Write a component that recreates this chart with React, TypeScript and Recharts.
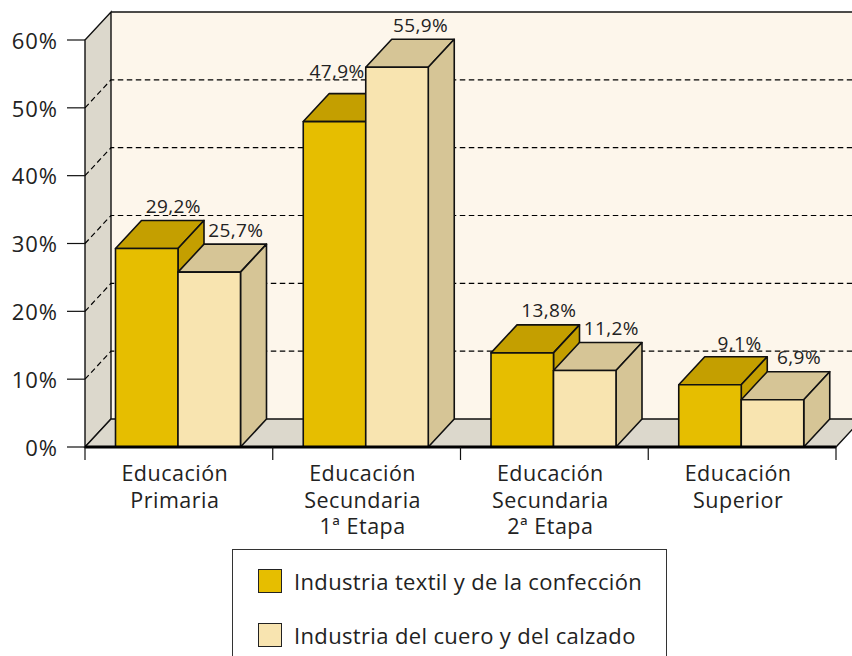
import React from 'react';
import {
  Bar, BarChart, Customized, LabelList, Legend, XAxis, YAxis,
} from 'recharts';

const categories = ['Educación\nPrimaria', 'Educación\nSecundaria\n1ª Etapa', 'Educación\nSecundaria\n2ª Etapa', 'Educación\nSuperior'];
const textil = [29.2, 47.9, 13.8, 9.1];
const cuero = [25.7, 55.9, 11.2, 6.9];
const yTicks = [0, 10, 20, 30, 40, 50, 60];
const gridValues = [10, 20, 30, 40, 50];

const data = categories.map((name, i) => ({ name, textil: textil[i], cuero: cuero[i] }));

const WIDTH = 852;
const HEIGHT = 656;
const LEFT = 85;
const RIGHT = 836;
const TOP = 40;
const BOTTOM = 447;
const DX = 26;
const DY = 28;
const FONT = '"Open Sans", sans-serif';
const yOf = (v: number) => BOTTOM - (v / 60) * (BOTTOM - TOP);

const Walls = () => (
  <g>
    <polygon points={`${LEFT + DX},${TOP - DY} ${RIGHT + DX},${TOP - DY} ${RIGHT + DX},${BOTTOM - DY} ${LEFT + DX},${BOTTOM - DY}`} fill="#FDF6EB" />
    <polygon points={`${LEFT},${BOTTOM} ${LEFT},${TOP} ${LEFT + DX},${TOP - DY} ${LEFT + DX},${BOTTOM - DY}`} fill="#DCD8CC" stroke="#111" strokeWidth={1.4} />
    <polygon points={`${LEFT},${BOTTOM} ${LEFT + DX},${BOTTOM - DY} ${RIGHT + DX},${BOTTOM - DY} ${RIGHT},${BOTTOM}`} fill="#DCD8CC" stroke="#111" strokeWidth={1.4} />
    <line x1={LEFT + DX} x2={RIGHT + DX} y1={TOP - DY} y2={TOP - DY} stroke="#111" strokeWidth={1.4} />
    {gridValues.map((v) => (
      <polyline
        key={v}
        points={`${LEFT},${yOf(v)} ${LEFT + DX},${yOf(v) - DY} ${RIGHT + DX},${yOf(v) - DY}`}
        fill="none"
        stroke="#000"
        strokeWidth={1.2}
        strokeDasharray="5.5 3.5"
      />
    ))}
  </g>
);

const Box3D = (props: any, top: string, side: string) => {
  const { width, fill } = props;
  const x = props.x - 0.5;
  const y = props.y - 0.5;
  const height = props.height + 0.5;
  return (
    <g stroke="#111" strokeWidth={1.6} strokeLinejoin="round">
      <polygon points={`${x},${y} ${x + DX},${y - DY} ${x + width + DX},${y - DY} ${x + width},${y}`} fill={top} />
      <polygon points={`${x + width},${y} ${x + width + DX},${y - DY} ${x + width + DX},${y + height - DY} ${x + width},${y + height}`} fill={side} />
      <rect x={x} y={y} width={width} height={height} fill={fill} />
    </g>
  );
};

// a few labels sit off the centre of their bar top
const labelShift: Record<string, number[]> = {
  47.9: [-24, -8], 55.9: [-3, 0], 9.1: [3, 1],
};

const BarLabel = (props: any) => {
  const { x, y, width, value } = props;
  const [sx, sy] = labelShift[String(value)] ?? [0, 0];
  return (
    <text
      x={x + width / 2 + DX + sx}
      y={y - DY - 8 + sy}
      textAnchor="middle"
      fontFamily={FONT}
      fontSize={19}
      letterSpacing={0.4}
      fill="#222"
    >
      {String(value).replace('.', ',')}%
    </text>
  );
};

const CategoryTick = (props: any) => {
  const { x, y, payload, index } = props;
  const step = (RIGHT - LEFT) / categories.length;
  const lines = String(payload.value).split('\n');
  return (
    <g>
      <line x1={x - step / 2} x2={x - step / 2} y1={BOTTOM} y2={BOTTOM + 13} stroke="#111" strokeWidth={1.2} />
      {index === categories.length - 1 && (
        <line x1={x + step / 2} x2={x + step / 2} y1={BOTTOM} y2={BOTTOM + 13} stroke="#111" strokeWidth={1.2} />
      )}
      <text x={x - 4} y={y + 26} textAnchor="middle" fontFamily={FONT} fontSize={21.5} letterSpacing={0.5} fill="#222">
        {lines.map((line, i) => (
          <tspan key={line} x={x - 4} dy={i === 0 ? 0 : 26.5}>{line}</tspan>
        ))}
      </text>
    </g>
  );
};

const LegendBox = ({ payload }: any) => (
  <div style={{
    boxSizing: 'border-box', width: 435, height: 130, border: '1px solid #333', background: '#fff', position: 'relative', fontFamily: FONT, fontSize: 22, letterSpacing: 0.35, color: '#222',
  }}
  >
    {(payload ?? []).map((entry: any, i: number) => (
      <div key={entry.value} style={{ position: 'absolute', left: 25, top: 19 + i * 54, display: 'flex', alignItems: 'center', height: 24 }}>
        <span style={{ boxSizing: 'border-box', width: 24, height: 24, background: entry.color, border: '1px solid #222', marginRight: 12 }} />
        <span style={{ whiteSpace: 'nowrap' }}>{entry.value}</span>
      </div>
    ))}
  </div>
);

export default function App() {
  return (
    <div style={{ position: 'absolute', left: 0, top: 0, width: WIDTH, height: HEIGHT, overflow: 'hidden' }}>
      <BarChart
        width={WIDTH}
        height={HEIGHT}
        data={data}
        margin={{ top: TOP, right: WIDTH - RIGHT, bottom: HEIGHT - BOTTOM - 60, left: 0 }}
        barSize={62.5}
        barGap={0}
      >
        <Customized component={Walls} />
        <XAxis dataKey="name" interval={0} height={60} tickLine={false} axisLine={{ stroke: '#000', strokeWidth: 3 }} tick={CategoryTick} />
        <YAxis
          width={LEFT}
          domain={[0, 60]}
          ticks={yTicks}
          tickFormatter={(v: number) => `${v}%`}
          tickSize={18}
          tickMargin={9}
          axisLine={false}
          tick={{ fill: '#222', fontFamily: FONT, fontSize: 22, letterSpacing: 1, dy: 1 }}
          tickLine={{ stroke: '#111', strokeWidth: 1.2 }}
        />
        <Legend
          layout="vertical"
          align="center"
          verticalAlign="middle"
          itemSorter={null}
          content={LegendBox}
          wrapperStyle={{ left: 232, top: 549, width: 435, height: 130 }}
        />
        <Bar name="Industria textil y de la confección" dataKey="textil" fill="#E6BE00" isAnimationActive={false} shape={(p: any) => Box3D(p, '#C49F00', '#C49F00')}>
          <LabelList dataKey="textil" content={BarLabel} />
        </Bar>
        <Bar name="Industria del cuero y del calzado" dataKey="cuero" fill="#F8E4B0" isAnimationActive={false} shape={(p: any) => Box3D(p, '#D6C596', '#D6C596')}>
          <LabelList dataKey="cuero" content={BarLabel} />
        </Bar>
      </BarChart>
    </div>
  );
}
